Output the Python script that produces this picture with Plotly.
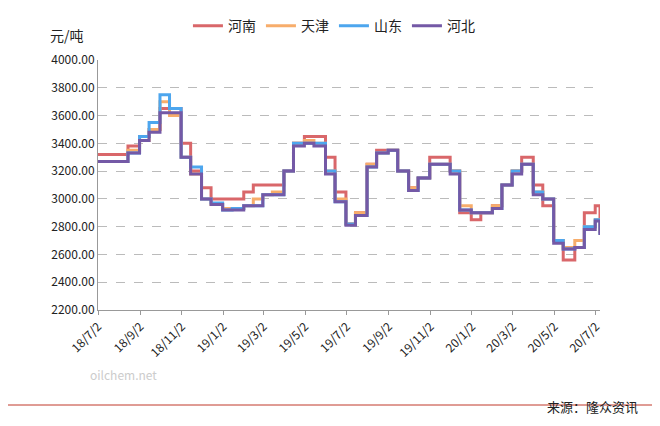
import plotly.graph_objects as go

dates = ["2018-07-02", "2018-07-15", "2018-08-01", "2018-08-15", "2018-09-01", "2018-09-15",
         "2018-10-01", "2018-10-15", "2018-11-01", "2018-11-15", "2018-12-01", "2018-12-15",
         "2019-01-01", "2019-01-15", "2019-02-01", "2019-02-15", "2019-03-01", "2019-03-15",
         "2019-04-01", "2019-04-15", "2019-05-01", "2019-05-15", "2019-06-01", "2019-06-15",
         "2019-07-01", "2019-07-15", "2019-08-01", "2019-08-15", "2019-09-01", "2019-09-15",
         "2019-10-01", "2019-10-15", "2019-11-01", "2019-11-15", "2019-12-01", "2019-12-15",
         "2020-01-01", "2020-01-15", "2020-02-01", "2020-02-15", "2020-03-01", "2020-03-15",
         "2020-04-01", "2020-04-15", "2020-05-01", "2020-05-15", "2020-06-01", "2020-06-15",
         "2020-07-01", "2020-07-08"]

henan = [3320, 3320, 3320, 3380, 3450, 3500, 3650, 3650, 3400, 3200,
         3080, 3000, 3000, 3000, 3050, 3100, 3100, 3100, 3200, 3400,
         3450, 3450, 3300, 3050, 2820, 2900, 3250, 3350, 3350, 3200,
         3080, 3150, 3300, 3300, 3200, 2900, 2850, 2900, 2950, 3100,
         3200, 3300, 3100, 2950, 2700, 2560, 2650, 2900, 2950, 2750]
tianjin = [3270, 3270, 3270, 3350, 3420, 3500, 3700, 3600, 3300, 3180,
           3000, 2960, 2930, 2930, 2950, 3000, 3030, 3050, 3200, 3400,
           3420, 3400, 3200, 3000, 2820, 2900, 3250, 3330, 3350, 3200,
           3080, 3150, 3250, 3250, 3200, 2950, 2900, 2900, 2950, 3100,
           3200, 3250, 3050, 3000, 2700, 2650, 2700, 2800, 2850, 2750]
shandong = [3270, 3270, 3270, 3330, 3450, 3550, 3750, 3650, 3300, 3230,
            3000, 2970, 2920, 2930, 2950, 2950, 3030, 3030, 3200, 3400,
            3400, 3400, 3200, 2980, 2820, 2880, 3230, 3330, 3350, 3200,
            3060, 3150, 3250, 3250, 3200, 2920, 2900, 2900, 2930, 3100,
            3200, 3250, 3050, 3000, 2700, 2640, 2650, 2800, 2850, 2740]
hebei = [3270, 3270, 3270, 3330, 3420, 3480, 3620, 3620, 3300, 3180,
         3000, 2960, 2920, 2920, 2950, 2950, 3030, 3030, 3200, 3380,
         3400, 3380, 3180, 2980, 2810, 2880, 3230, 3330, 3350, 3200,
         3060, 3150, 3250, 3250, 3180, 2920, 2900, 2900, 2930, 3100,
         3180, 3250, 3030, 3000, 2680, 2640, 2650, 2780, 2840, 2740]

tick_dates = ["2018-07-02", "2018-09-02", "2018-11-02", "2019-01-02", "2019-03-02", "2019-05-02",
              "2019-07-02", "2019-09-02", "2019-11-02", "2020-01-02", "2020-03-02", "2020-05-02",
              "2020-07-02"]
tick_labels = ["18/7/2", "18/9/2", "18/11/2", "19/1/2", "19/3/2", "19/5/2", "19/7/2",
               "19/9/2", "19/11/2", "20/1/2", "20/3/2", "20/5/2", "20/7/2"]

series = [("河南", henan, "#d9676a"), ("天津", tianjin, "#f7ad6b"),
          ("山东", shandong, "#4da6ee"), ("河北", hebei, "#7459a6")]

fig = go.Figure()
for name, vals, color in series:
    fig.add_trace(go.Scatter(x=dates, y=vals, name=name, mode="lines",
                             line=dict(color=color, width=3, shape="hv")))

fig.update_layout(
    width=660, height=426, paper_bgcolor="white", plot_bgcolor="white",
    margin=dict(l=90, r=68, t=52, b=124, autoexpand=False),
    font=dict(family="Noto Sans CJK SC, Arial", size=12, color="#222"),
    legend=dict(orientation="h", x=0.47, xanchor="center", yref="container", y=0.995,
                yanchor="top", font=dict(size=14)),
    xaxis=dict(range=["2018-07-02", "2020-07-08"], tickvals=tick_dates, ticktext=tick_labels,
               tickangle=-45, showgrid=False, showline=True, linecolor="#999",
               ticks="outside", tickcolor="#999", ticklen=4, tickfont=dict(size=12),
               automargin=False),
    yaxis=dict(range=[2200, 4000], dtick=200, tickformat=".2f", showline=True,
               linecolor="#999", gridcolor="#bbb", griddash="dash", zeroline=False,
               tickfont=dict(size=12), automargin=False),
    shapes=[dict(type="line", xref="paper", yref="paper", x0=-0.2, x1=1.12, y0=-0.38, y1=-0.38,
                 line=dict(color="#c0392b", width=1))],
    annotations=[
        dict(text="元/吨", xref="paper", yref="paper", x=-0.1, y=1.15, showarrow=False,
             font=dict(size=14)),
        dict(text="oilchem.net", xref="paper", yref="paper", x=-0.02, y=-0.3, showarrow=False,
             font=dict(size=12, color="#ccc")),
        dict(text="来源：隆众资讯", xref="paper", yref="paper", x=1.08, y=-0.43, xanchor="right",
             showarrow=False, font=dict(size=13)),
    ],
)

fig.write_html("out.html")
